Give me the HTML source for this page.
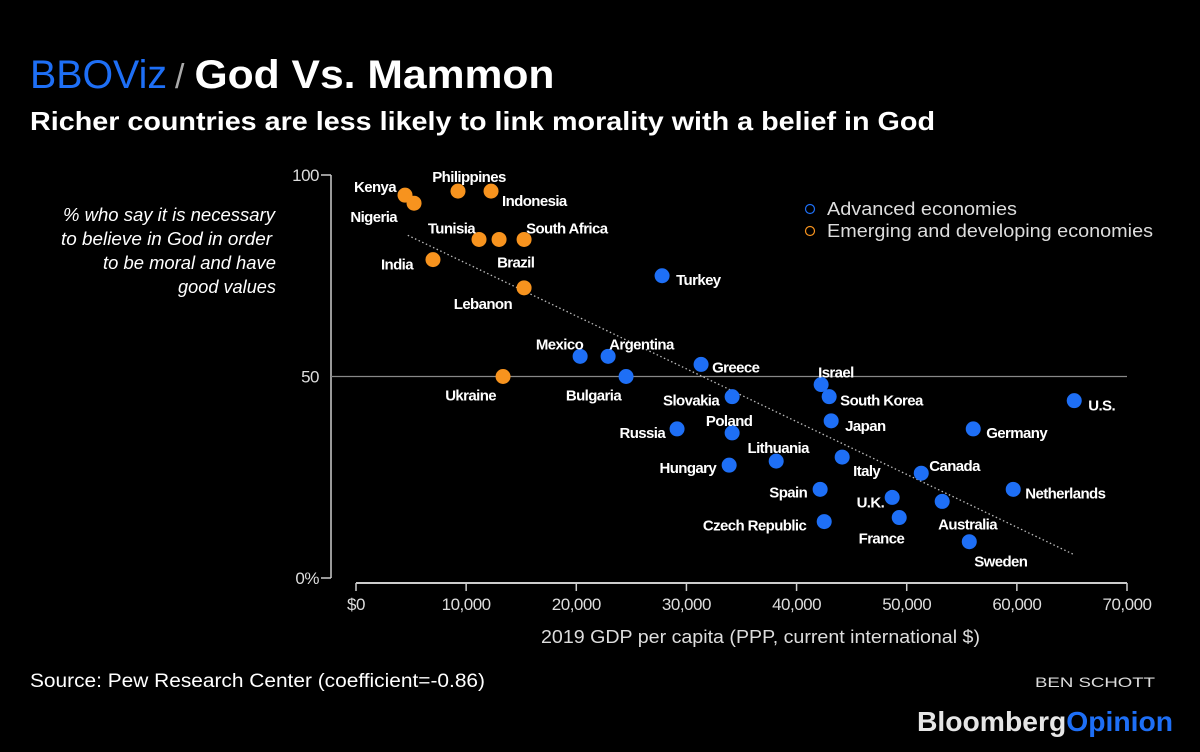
<!DOCTYPE html>
<html><head><meta charset="utf-8">
<style>
html,body{margin:0;padding:0;background:#000;}
svg{display:block;font-family:"Liberation Sans",sans-serif;}
.lbl{fill:#fff;font-weight:bold;font-size:15px;letter-spacing:-0.6px;}
.tick{fill:#ddd;font-size:17px;letter-spacing:-0.5px;}
</style></head>
<body>
<svg id="chart" width="1200" height="752" viewBox="0 0 1200 752" xmlns="http://www.w3.org/2000/svg">
  <rect width="1200" height="752" fill="#000"/>
  <text x="30" y="88" font-size="40"><tspan fill="#1e6ff6" font-weight="normal" textLength="137" lengthAdjust="spacingAndGlyphs">BBOViz</tspan><tspan fill="#aaa" font-size="34" dx="8">/</tspan><tspan fill="#fff" font-weight="bold" dx="10" textLength="360" lengthAdjust="spacingAndGlyphs">God Vs. Mammon</tspan></text>
  <text x="30" y="130" font-size="26" font-weight="bold" fill="#fff" textLength="905" lengthAdjust="spacingAndGlyphs">Richer countries are less likely to link morality with a belief in God</text>
  <g fill="#fff" font-size="18" font-style="italic" lengthAdjust="spacingAndGlyphs">
    <text x="63" y="221" textLength="212" lengthAdjust="spacingAndGlyphs">% who say it is necessary</text>
    <text x="61" y="245" textLength="211" lengthAdjust="spacingAndGlyphs">to believe in God in order</text>
    <text x="103" y="269" textLength="173" lengthAdjust="spacingAndGlyphs">to be moral and have</text>
    <text x="178" y="293" textLength="98" lengthAdjust="spacingAndGlyphs">good values</text>
  </g>
  <g id="axes"></g>
  <g id="marks"></g>
  <g>
    <circle cx="810" cy="209" r="4.5" fill="none" stroke="#1e6ff6" stroke-width="1.2"/>
    <text x="827" y="215" fill="#ddd" font-size="18" textLength="190" lengthAdjust="spacingAndGlyphs">Advanced economies</text>
    <circle cx="810" cy="231" r="4.5" fill="none" stroke="#f7931e" stroke-width="1.2"/>
    <text x="827" y="237" fill="#ddd" font-size="18" textLength="326" lengthAdjust="spacingAndGlyphs">Emerging and developing economies</text>
  </g>
  <text x="541" y="643" fill="#ddd" font-size="18" textLength="439" lengthAdjust="spacingAndGlyphs">2019 GDP per capita (PPP, current international $)</text>
  <text x="30" y="687" fill="#fff" font-size="19" textLength="455" lengthAdjust="spacingAndGlyphs">Source: Pew Research Center (coefficient=-0.86)</text>
  <text x="1035" y="687" fill="#ddd" font-size="14" textLength="120" lengthAdjust="spacingAndGlyphs">BEN SCHOTT</text>
  <text x="917" y="731" font-size="28" font-weight="bold" textLength="256" lengthAdjust="spacingAndGlyphs"><tspan fill="#e6e6e6">Bloomberg</tspan><tspan fill="#1e6ff6">Opinion</tspan></text>
</svg>
<script>
const countries = ["Kenya","Nigeria","Philippines","Indonesia","Tunisia","Brazil","South Africa","India","Lebanon","Ukraine","Turkey","Mexico","Argentina","Bulgaria","Greece","Slovakia","Israel","South Korea","Japan","Russia","Poland","Germany","U.S.","Lithuania","Hungary","Italy","Canada","Netherlands","Spain","U.K.","Australia","Czech Republic","France","Sweden"];
const gdp = [4450,5270,9260,12260,11170,12990,15260,6990,15260,13350,27790,20350,22890,24520,31330,34150,42230,42960,43140,29150,34150,56040,65210,38150,33880,44140,51320,59670,42140,48680,53220,42510,49320,55680];
const pctGod = [95,93,96,96,84,84,84,79,72,50,75,55,55,50,53,45,48,45,39,37,36,37,44,29,28,30,26,22,22,20,19,14,15,9];
const group = ["E","E","E","E","E","E","E","E","E","E","A","A","A","A","A","A","A","A","A","A","A","A","A","A","A","A","A","A","A","A","A","A","A","A"];
const xTicks = [0,10000,20000,30000,40000,50000,60000,70000];
const xTickLabels = ["$0","10,000","20,000","30,000","40,000","50,000","60,000","70,000"];
const yTicks = [0,50,100];
const yTickLabels = ["0%","50","100"];
const trendX = [4700,65100];
const trendIntercept = 91.2;
const trendSlope = -0.00131;
// label placement offsets (layout, not data)
const labelLayout = [[-9,-8,"end"],[-17,14,"end"],[11,-14,"middle"],[11,10,"start"],[-4,-11,"end"],[-2,23,"start"],[2,-11,"start"],[-20,5,"end"],[-12,16,"end"],[-7,19,"end"],[14,4,"start"],[3,-12,"end"],[1,-12,"start"],[-5,19,"end"],[11,3,"start"],[-13,4,"end"],[-3,-12,"start"],[11,4,"start"],[14,5,"start"],[-12,4,"end"],[-3,-12,"middle"],[13,4,"start"],[14,5,"start"],[2,-13,"middle"],[-13,3,"end"],[11,14,"start"],[8,-7,"start"],[12,4,"start"],[-13,3,"end"],[-8,5,"end"],[-4,23,"start"],[-18,4,"end"],[5,21,"end"],[5,20,"start"]];

const NS="http://www.w3.org/2000/svg";
const X0=356, X1=1127, XMAX=70000, Y0=578, Y1=175;
const xs = v => X0 + (X1-X0)*v/XMAX;
const ys = v => Y0 - (Y0-Y1)*v/100;
function mk(tag, attrs, parent){const e=document.createElementNS(NS,tag);for(const k in attrs)e.setAttribute(k,attrs[k]);parent.appendChild(e);return e;}
const axes=document.getElementById('axes'), marks=document.getElementById('marks');

let yl=mk('line',{x1:331,y1:ys(100),x2:331,y2:ys(0),stroke:'#ccc','stroke-width':1.5},axes);


yTicks.forEach((t,i)=>{
  if(t!==50){
    const tk=mk('line',{x1:321,y1:ys(t),x2:331,y2:ys(t),stroke:'#ccc','stroke-width':1.5},axes);
    
    
  }
  const tx=mk('text',{x:319,y:ys(t)+6,'text-anchor':'end',class:'tick'},axes);
  tx.textContent=yTickLabels[i];
  
  
});
const ref=mk('line',{x1:331,y1:ys(50),x2:X1,y2:ys(50),stroke:'#888','stroke-width':1.2},axes);


const xl=mk('line',{x1:X0,y1:583,x2:X1,y2:583,stroke:'#ccc','stroke-width':2},axes);


xTicks.forEach((t,i)=>{
  const tk=mk('line',{x1:xs(t),y1:583,x2:xs(t),y2:591,stroke:'#ccc','stroke-width':1.5},axes);
  
  
  const tx=mk('text',{x:xs(t),y:610,'text-anchor':'middle',class:'tick'},axes);
  tx.textContent=xTickLabels[i];
  
  
});
const tl=mk('line',{x1:xs(trendX[0]),y1:ys(trendIntercept+trendSlope*trendX[0]),x2:xs(trendX[1]),y2:ys(trendIntercept+trendSlope*trendX[1]),stroke:'#bbb','stroke-width':1.3,'stroke-dasharray':'1.5 2.5'},marks);


countries.forEach((c,i)=>{
  const cx=xs(gdp[i]), cy=ys(pctGod[i]);
  const dot=mk('circle',{cx:cx,cy:cy,r:7.5,fill:group[i]==='A'?'#1e6ff6':'#f7931e'},marks);
  
  
  const L=labelLayout[i];
  const t=mk('text',{x:cx+L[0],y:cy+L[1]+5,'text-anchor':L[2],class:'lbl'},marks);
  t.textContent=c;
  
  
});
</script>
</body></html>
